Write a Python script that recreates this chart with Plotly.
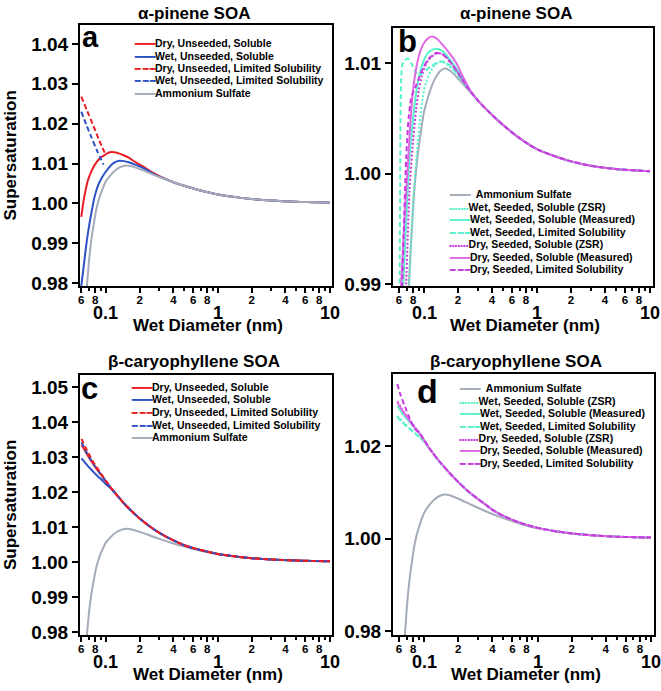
import math
import plotly.graph_objects as go

W, H = 661, 691
FONT = "Liberation Sans, Arial, Helvetica, sans-serif"

# ---------------- data ----------------
# Ammonium sulfate curve (same in all panels)
AS_X = [0.0675, 0.070, 0.072, 0.075, 0.078, 0.082, 0.086, 0.090, 0.095, 0.10, 0.11, 0.12, 0.13, 0.14,
        0.152, 0.17, 0.20, 0.25, 0.30, 0.40, 0.50, 0.70, 1.0, 1.5, 2.0, 3.0, 5.0, 7.0, 10.0]
AS_Y = [0.9790, 0.9845, 0.9880, 0.9920, 0.9950, 0.9985, 1.0008, 1.0025, 1.0042, 1.0056, 1.0071, 1.0082,
        1.0089, 1.0093, 1.0095, 1.0093, 1.0086, 1.0075, 1.0066, 1.0053, 1.0044, 1.0032, 1.0022, 1.0015,
        1.0011, 1.0007, 1.0004, 1.0003, 1.0002]

# common large-diameter tail (curves coincide with ammonium sulfate)
TAIL_X = [0.40, 0.50, 0.70, 1.0, 1.5, 2.0, 3.0, 5.0, 7.0, 10.0]
TAIL_Y = [1.0053, 1.0044, 1.0032, 1.0022, 1.0015, 1.0011, 1.0007, 1.0004, 1.0003, 1.0002]

# ---- panel a : alpha-pinene, unseeded ----
A_DRY_SOL_X = [0.0602, 0.063, 0.066, 0.069, 0.074, 0.079, 0.085, 0.090, 0.097, 0.105, 0.112, 0.125,
               0.14, 0.157, 0.18, 0.20, 0.222, 0.25, 0.30]
A_DRY_SOL_Y = [0.9966, 1.0005, 1.0035, 1.0058, 1.0080, 1.0096, 1.0108, 1.0115, 1.0121, 1.0127, 1.0129,
               1.0127, 1.0122, 1.0116, 1.0105, 1.0097, 1.0090, 1.0080, 1.0068]
A_WET_SOL_X = [0.0600, 0.0625, 0.066, 0.069, 0.074, 0.079, 0.085, 0.090, 0.097, 0.105, 0.112, 0.122,
               0.132, 0.145, 0.16, 0.187, 0.22, 0.272, 0.30]
A_WET_SOL_Y = [0.9790, 0.9830, 0.9885, 0.9925, 0.9975, 1.0016, 1.0045, 1.0060, 1.0075, 1.0088, 1.0097,
               1.0104, 1.0107, 1.0106, 1.0103, 1.0096, 1.0087, 1.0072, 1.0067]
A_DRY_LIM_X = [0.0602, 0.068, 0.0766, 0.087, 0.0985]
A_DRY_LIM_Y = [1.0268, 1.0232, 1.0197, 1.0158, 1.0124]
A_WET_LIM_X = [0.0602, 0.067, 0.0739, 0.083, 0.095]
A_WET_LIM_Y = [1.0230, 1.0196, 1.0167, 1.0133, 1.0097]

# ---- panel b : alpha-pinene, seeded ----
B_WET_ZSR_X = [0.073, 0.0743, 0.0796, 0.085, 0.0912, 0.098, 0.1046, 0.12, 0.137, 0.155, 0.18, 0.20, 0.25, 0.30]
B_WET_ZSR_Y = [0.9885, 0.9902, 0.9969, 1.0010, 1.0044, 1.0070, 1.0083, 1.0096, 1.0101, 1.0100, 1.0094,
               1.0089, 1.0076, 1.0066]
B_WET_MEAS_X = [0.065, 0.0671, 0.070, 0.0743, 0.080, 0.0853, 0.093, 0.10, 0.11, 0.128, 0.145, 0.17,
                0.193, 0.22, 0.254, 0.30]
B_WET_MEAS_Y = [0.9895, 0.9923, 0.9965, 1.0014, 1.0050, 1.0074, 1.0093, 1.0103, 1.0110, 1.0113, 1.0111,
                1.0103, 1.0095, 1.0086, 1.0075, 1.0066]
B_WET_LIM_X = [0.0600, 0.0607, 0.0615, 0.0628, 0.065, 0.0718, 0.078, 0.085, 0.0912, 0.10, 0.115, 0.135,
               0.152, 0.18, 0.20, 0.25, 0.30]
B_WET_LIM_Y = [0.9850, 0.9900, 0.9990, 1.0085, 1.0100, 1.0104, 1.0099, 1.0091, 1.0089, 1.0092, 1.0097,
               1.0101, 1.0101, 1.0095, 1.0089, 1.0076, 1.0066]
B_DRY_ZSR_X = [0.068, 0.0695, 0.0743, 0.080, 0.0853, 0.090, 0.0976, 0.11, 0.1324, 0.15, 0.17, 0.20, 0.25, 0.30]
B_DRY_ZSR_Y = [0.9885, 0.9902, 0.9984, 1.0030, 1.0059, 1.0076, 1.0092, 1.0103, 1.0109, 1.0107, 1.0101,
               1.0091, 1.0076, 1.0066]
B_DRY_MEAS_X = [0.0615, 0.0628, 0.066, 0.0695, 0.074, 0.0796, 0.087, 0.0944, 0.103, 0.116, 0.13, 0.15,
                0.17, 0.193, 0.22, 0.254, 0.30]
B_DRY_MEAS_Y = [0.9890, 0.9902, 0.9945, 0.9984, 1.0030, 1.0074, 1.0100, 1.0113, 1.0120, 1.0124, 1.0122,
                1.0115, 1.0108, 1.0100, 1.0088, 1.0076, 1.0066]
B_DRY_LIM_X = [0.0635, 0.0641, 0.066, 0.0695, 0.073, 0.0769, 0.081, 0.0853, 0.090, 0.0976, 0.11, 0.128,
               0.145, 0.17, 0.20, 0.25, 0.30]
B_DRY_LIM_Y = [0.9890, 0.9900, 0.9945, 1.0014, 1.0050, 1.0068, 1.0075, 1.0080, 1.0086, 1.0095, 1.0104,
               1.0109, 1.0108, 1.0101, 1.0091, 1.0076, 1.0066]

# ---- panel c : beta-caryophyllene, unseeded ----
C_MID_X = [0.115, 0.13, 0.15, 0.17, 0.20, 0.25, 0.30, 0.35, 0.40, 0.50, 0.70, 1.0, 1.5, 2.0, 3.0, 5.0, 7.0, 10.0]
C_MID_Y = [1.0205, 1.0185, 1.0162, 1.0145, 1.0124, 1.0100, 1.0083, 1.0071, 1.0062, 1.0048, 1.0034, 1.0023,
           1.0015, 1.0011, 1.0007, 1.0004, 1.0003, 1.0002]
C_DRY_SOL_X = [0.0605, 0.065, 0.070, 0.075, 0.080, 0.090, 0.100]
C_DRY_SOL_Y = [1.0335, 1.0318, 1.0300, 1.0285, 1.0272, 1.0250, 1.0230]
C_WET_SOL_X = [0.0605, 0.065, 0.070, 0.075, 0.080, 0.090, 0.100]
C_WET_SOL_Y = [1.0296, 1.0284, 1.0272, 1.0262, 1.0252, 1.0237, 1.0222]
C_DRY_LIM_X = [0.0605, 0.065, 0.070, 0.075, 0.080, 0.090, 0.100]
C_DRY_LIM_Y = [1.0352, 1.0330, 1.0310, 1.0292, 1.0277, 1.0253, 1.0232]
C_WET_LIM_X = [0.0605, 0.065, 0.070, 0.075, 0.080, 0.090, 0.100]
C_WET_LIM_Y = [1.0342, 1.0322, 1.0303, 1.0287, 1.0273, 1.0250, 1.0230]

# ---- panel d : beta-caryophyllene, seeded ----
D_MID_X = [0.115, 0.138, 0.17, 0.20, 0.25, 0.30, 0.35, 0.40, 0.50, 0.70, 1.0, 1.5, 2.0, 3.0, 5.0, 7.0, 10.0]
D_MID_Y = [1.0190, 1.0165, 1.0140, 1.0122, 1.0100, 1.0085, 1.0073, 1.0062, 1.0049, 1.0034, 1.0023, 1.0015,
           1.0011, 1.0007, 1.0004, 1.0003, 1.0002]
D_HEAD_X = [0.058, 0.065, 0.075, 0.085, 0.092, 0.100]
D_WET_ZSR_Y = [1.0265, 1.0252, 1.0237, 1.0226, 1.0219, 1.0209]
D_WET_MEAS_Y = [1.0287, 1.0269, 1.0251, 1.0235, 1.0225, 1.0211]
D_WET_LIM_Y = [1.0262, 1.0250, 1.0236, 1.0225, 1.0218, 1.0209]
D_DRY_ZSR_Y = [1.0297, 1.0276, 1.0255, 1.0237, 1.0227, 1.0213]
D_DRY_MEAS_Y = [1.0294, 1.0275, 1.0254, 1.0236, 1.0226, 1.0212]
D_DRY_LIM_X = [0.058, 0.062, 0.068, 0.075, 0.083, 0.092, 0.100]
D_DRY_LIM_Y = [1.0334, 1.0310, 1.0284, 1.0258, 1.0237, 1.0226, 1.0213]

# tick labels
X_LABELED = [0.06, 0.08, 0.2, 0.4, 0.6, 0.8, 2, 4, 6, 8]
X_LABEL_TEXT = ["6", "8", "2", "4", "6", "8", "2", "4", "6", "8"]
X_DECADES = [0.1, 1, 10]
X_DECADE_TEXT = ["0.1", "1", "10"]
X_MINOR = [0.07, 0.09, 0.3, 0.5, 0.7, 0.9, 3, 5, 7, 9]

TITLES = ["α-pinene SOA", "α-pinene SOA", "β-caryophyllene SOA", "β-caryophyllene SOA"]
LETTERS = ["a", "b", "c", "d"]
X_TITLE = "Wet Diameter (nm)"
Y_TITLE = "Supersaturation"

# ---------------- styles ----------------
RED = "#ec1c24"
BLUE = "#2d52c6"
GRAY = "#a4abb9"
MINT = "#58f2cc"
ORCHID = "#e06ae4"
MAGENTA = "#c63ae0"
DASH = "5px,3px"
DOT = "2px,2px"

PANELS = [
    dict(xpx=(80, 332), ypx=(25, 286), xr=[-1.232, 1.018], yr=[0.97925, 1.04477],
         yt=[0.98, 0.99, 1.00, 1.01, 1.02, 1.03, 1.04], title_xy=(194, 13), letter_xy=(90, 37), letter_size=29),
    dict(xpx=(393, 653), ypx=(28, 286), xr=[-1.275, 1.027], yr=[0.98982, 1.01317],
         yt=[0.99, 1.00, 1.01], title_xy=(516, 13), letter_xy=(407, 41), letter_size=31),
    dict(xpx=(80, 332), ypx=(375, 635), xr=[-1.232, 1.018], yr=[0.97914, 1.05343],
         yt=[0.98, 0.99, 1.00, 1.01, 1.02, 1.03, 1.04, 1.05], title_xy=(194, 361), letter_xy=(89, 388), letter_size=31),
    dict(xpx=(393, 654), ypx=(374, 635), xr=[-1.275, 1.027], yr=[0.97914, 1.03557],
         yt=[0.98, 1.00, 1.02], title_xy=(516, 361), letter_xy=(427, 391), letter_size=34),
]

fig = go.Figure()


def add(panel, xs, ys, color, dash="solid", width=2):
    n = "" if panel == 0 else str(panel + 1)
    fig.add_trace(go.Scatter(x=xs, y=ys, mode="lines", xaxis="x" + n, yaxis="y" + n,
                             line=dict(color=color, width=width, dash=dash, shape="spline", smoothing=0.8),
                             showlegend=False, hoverinfo="skip", cliponaxis=True))


# panel a
add(0, A_DRY_SOL_X + TAIL_X, A_DRY_SOL_Y + TAIL_Y, RED)
add(0, A_WET_SOL_X + TAIL_X, A_WET_SOL_Y + TAIL_Y, BLUE)
add(0, A_DRY_LIM_X, A_DRY_LIM_Y, RED, DASH)
add(0, A_WET_LIM_X, A_WET_LIM_Y, BLUE, DASH)
add(0, AS_X, AS_Y, GRAY)
# panel b
add(1, AS_X, AS_Y, GRAY)
add(1, B_WET_ZSR_X + TAIL_X, B_WET_ZSR_Y + TAIL_Y, MINT, DOT)
add(1, B_WET_MEAS_X + TAIL_X, B_WET_MEAS_Y + TAIL_Y, MINT)
add(1, B_WET_LIM_X + TAIL_X, B_WET_LIM_Y + TAIL_Y, MINT, DASH)
add(1, B_DRY_ZSR_X + TAIL_X, B_DRY_ZSR_Y + TAIL_Y, MAGENTA, DOT)
add(1, B_DRY_MEAS_X + TAIL_X, B_DRY_MEAS_Y + TAIL_Y, ORCHID)
add(1, B_DRY_LIM_X + TAIL_X, B_DRY_LIM_Y + TAIL_Y, MAGENTA, DASH)
# panel c
add(2, AS_X, AS_Y, GRAY)
add(2, C_WET_SOL_X + C_MID_X, C_WET_SOL_Y + C_MID_Y, BLUE)
add(2, C_DRY_SOL_X + C_MID_X, C_DRY_SOL_Y + C_MID_Y, RED)
add(2, C_WET_LIM_X + C_MID_X, C_WET_LIM_Y + C_MID_Y, BLUE, DASH)
add(2, C_DRY_LIM_X + C_MID_X, C_DRY_LIM_Y + C_MID_Y, RED, DASH)
# panel d
add(3, AS_X, AS_Y, GRAY)
add(3, D_HEAD_X + D_MID_X, D_WET_ZSR_Y + D_MID_Y, MINT, DOT)
add(3, D_HEAD_X + D_MID_X, D_WET_MEAS_Y + D_MID_Y, MINT)
add(3, D_HEAD_X + D_MID_X, D_WET_LIM_Y + D_MID_Y, MINT, DASH)
add(3, D_HEAD_X + D_MID_X, D_DRY_ZSR_Y + D_MID_Y, MAGENTA, DOT)
add(3, D_HEAD_X + D_MID_X, D_DRY_MEAS_Y + D_MID_Y, ORCHID)
add(3, D_DRY_LIM_X + D_MID_X, D_DRY_LIM_Y + D_MID_Y, MAGENTA, DASH)

layout = dict(width=W, height=H, margin=dict(l=0, r=0, t=0, b=0), paper_bgcolor="white",
              plot_bgcolor="white", showlegend=False)
annotations = []


def bold(size):
    return dict(family=FONT, size=size, color="black", weight="bold")


for i, p in enumerate(PANELS):
    n = "" if i == 0 else str(i + 1)
    x0, x1 = p["xpx"]
    yt, yb = p["ypx"]
    layout["xaxis" + n] = dict(
        type="log", range=p["xr"], domain=[x0 / W, x1 / W], anchor="y" + n,
        showline=True, mirror=True, linecolor="black", linewidth=2,
        ticks="outside", ticklen=5, tickwidth=1.5, tickcolor="black",
        tickvals=X_LABELED + X_DECADES, ticktext=X_LABEL_TEXT + [""] * len(X_DECADES),
        tickfont=bold(11.5), tickangle=0, automargin=False, ticklabelstandoff=-3,
        minor=dict(tickvals=X_MINOR, ticks="outside", ticklen=3, tickwidth=1.5, tickcolor="black", showgrid=False),
        showgrid=False, zeroline=False, fixedrange=True)
    layout["yaxis" + n] = dict(
        range=p["yr"], domain=[1 - yb / H, 1 - yt / H], anchor="x" + n,
        showline=True, mirror=True, linecolor="black", linewidth=2,
        ticks="outside", ticklen=6, tickwidth=2, tickcolor="black", automargin=False,
        tickvals=p["yt"], tickformat=".2f", tickfont=bold(19),
        showgrid=False, zeroline=False, fixedrange=True)
    # decade labels
    for v, t in zip(X_DECADES, X_DECADE_TEXT):
        annotations.append(dict(x=math.log10(v), xref="x" + n, y=1 - (yb + 27) / H, yref="paper",
                                text=t, showarrow=False, xanchor="center", yanchor="middle", font=bold(18)))
    # x title
    annotations.append(dict(x=((x0 + x1) / 2 + 2) / W, xref="paper", y=1 - (yb + 39) / H, yref="paper",
                            text=X_TITLE, showarrow=False, xanchor="center", yanchor="middle", font=bold(17)))
    # panel title
    tx, ty = p["title_xy"]
    annotations.append(dict(x=tx / W, xref="paper", y=1 - ty / H, yref="paper", text=TITLES[i],
                            showarrow=False, xanchor="center", yanchor="middle", font=bold(17)))
    # letter
    lx, ly = p["letter_xy"]
    annotations.append(dict(x=lx / W, xref="paper", y=1 - ly / H, yref="paper", text=LETTERS[i],
                            showarrow=False, xanchor="center", yanchor="middle", font=bold(p["letter_size"])))
    # y title (left column)
    if i in (0, 2):
        annotations.append(dict(x=10 / W, xref="paper", y=1 - ((yt + yb) / 2) / H, yref="paper",
                                text=Y_TITLE, textangle=-90, showarrow=False, xanchor="center",
                                yanchor="middle", font=bold(17)))


# ---------------- legends (text keys) ----------------
def key(color, style):
    if style == "solid":
        return f"<span style='color:{color};font-size:9px'>━━━━</span>"
    if style == "dash":
        return f"<span style='color:{color};font-size:9px'>━ ━ ━</span>"
    return f"<span style='color:{color};font-size:8px'>•••••••</span>"


LEG_UNSEEDED = [(RED, "solid", "Dry, Unseeded, Soluble"), (BLUE, "solid", "Wet, Unseeded, Soluble"),
                (RED, "dash", "Dry, Unseeded, Limited Solubility"),
                (BLUE, "dash", "Wet, Unseeded, Limited Solubility"), (GRAY, "solid", "Ammonium Sulfate")]
LEG_SEEDED = [(GRAY, "solid", "  Ammonium Sulfate"), (MINT, "dot", "Wet, Seeded, Soluble (ZSR)"),
              (MINT, "solid", "Wet, Seeded, Soluble (Measured)"),
              (MINT, "dash", "Wet, Seeded, Limited Solubility"), (MAGENTA, "dot", "Dry, Seeded, Soluble (ZSR)"),
              (ORCHID, "solid", "Dry, Seeded, Soluble (Measured)"),
              (MAGENTA, "dash", "Dry, Seeded, Limited Solubility")]

for entries, (lx, ly0, dy) in [(LEG_UNSEEDED, (133, 43.3, 12.35)), (LEG_SEEDED, (448, 194.3, 12.5)),
                               (LEG_UNSEEDED, (130, 386.7, 12.65)), (LEG_SEEDED, (458, 388.3, 12.4))]:
    for k, (c, s, label) in enumerate(entries):
        annotations.append(dict(x=lx / W, xref="paper", y=1 - (ly0 + k * dy) / H, yref="paper",
                                text=key(c, s) + label.replace("  ", "&nbsp;&nbsp;"), showarrow=False,
                                xanchor="left", yanchor="middle", font=bold(10.5), borderpad=0))

layout["annotations"] = annotations
fig.update_layout(**layout)
fig.write_html("out.html", config={"displayModeBar": False},
               post_script="document.body.style.margin='0';document.body.style.overflow='hidden';")
